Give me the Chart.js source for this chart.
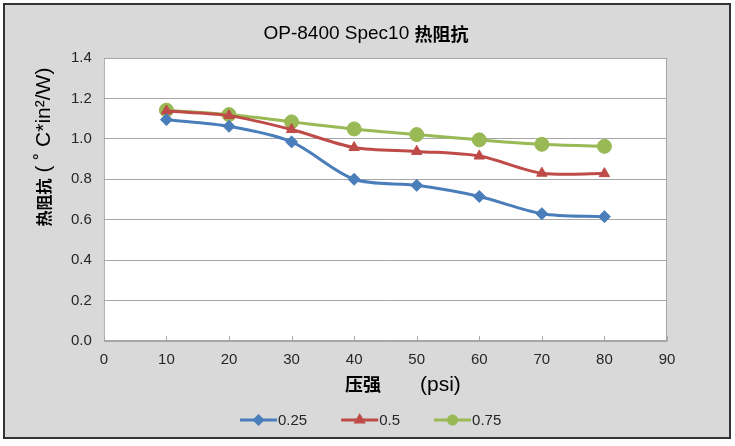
<!DOCTYPE html>
<html>
<head>
<meta charset="utf-8">
<script src="https://cdn.jsdelivr.net/npm/chart.js@4"></script>
<style>
body { margin: 0; background: #fff; }
#chart { display: block; }
</style>
</head>
<body>
<canvas id="chart" width="735" height="446"></canvas>
<script>
// pressure (psi)
let pressures = [10, 20, 30, 40, 50, 60, 70, 80]
let series025 = [1.095, 1.062, 0.985, 0.80, 0.77, 0.715, 0.63, 0.615]
let series05 = [1.138, 1.115, 1.046, 0.957, 0.938, 0.915, 0.83, 0.828]
let series075 = [1.142, 1.12, 1.084, 1.049, 1.021, 0.995, 0.973, 0.963]
let seriesNames = ["0.25", "0.5", "0.75"]
let xTicks = [0, 10, 20, 30, 40, 50, 60, 70, 80, 90]
let yTicks = [0, 0.2, 0.4, 0.6, 0.8, 1.0, 1.2, 1.4]

let colors = ["#4a7ebb", "#be4b48", "#98b954"]
let markers = ["rectRot", "triangle", "circle"]
let markerSize = [6, 6, 7]

function pts(vals) {
    return vals.map((v, i) => ({x: pressures[i], y: v}))
}

// draw a string made of parts with different fonts, centered at (cx, cy)
function mixedText(ctx, parts, cx, cy) {
    let total = 0
    for (let p of parts) {
        ctx.font = p[1]
        total += ctx.measureText(p[0]).width
    }
    let x = cx - total / 2
    ctx.textAlign = "left"
    ctx.textBaseline = "middle"
    for (let p of parts) {
        ctx.font = p[1]
        ctx.fillText(p[0], x, cy)
        x += ctx.measureText(p[0]).width
    }
}

const bgPlugin = {
    id: "bg",
    beforeDraw(chart) {
        let ctx = chart.ctx
        let a = chart.chartArea
        ctx.save()
        ctx.fillStyle = "#ffffff"
        ctx.fillRect(0, 0, chart.width, chart.height)
        ctx.fillStyle = "#d9d9d9"
        ctx.fillRect(4, 4, 726, 434)
        ctx.strokeStyle = "#333333"
        ctx.lineWidth = 2
        ctx.strokeRect(4, 4, 726, 434)
        ctx.fillStyle = "#ffffff"
        ctx.fillRect(a.left, a.top, a.right - a.left, a.bottom - a.top)
        ctx.restore()
    },
    afterDatasetsDraw(chart) {
        let ctx = chart.ctx
        let a = chart.chartArea
        ctx.save()
        ctx.strokeStyle = "#a6a6a6"
        ctx.lineWidth = 1
        ctx.strokeRect(a.left + 0.5, a.top + 0.5, a.right - a.left - 1, a.bottom - a.top - 1)
        // small inner tick marks on x axis
        let xs = chart.scales.x
        for (let t of xTicks) {
            let px = Math.round(xs.getPixelForValue(t)) + 0.5
            ctx.beginPath()
            ctx.moveTo(px, a.bottom)
            ctx.lineTo(px, a.bottom - 5)
            ctx.stroke()
        }
        ctx.restore()
    },
    afterDraw(chart) {
        let ctx = chart.ctx
        ctx.save()
        ctx.fillStyle = "#000000"
        // title
        mixedText(ctx, [
            ["OP-8400 Spec10 ", "19px 'Liberation Sans'"],
            ["热阻抗", "bold 18px 'Noto Sans CJK SC'"]
        ], 366, 34)
        // x axis title
        ctx.textAlign = "left"
        ctx.textBaseline = "middle"
        ctx.font = "bold 18px 'Noto Sans CJK SC'"
        ctx.fillText("压强", 345, 384)
        ctx.font = "21px 'Liberation Sans'"
        ctx.fillText("(psi)", 420, 385)
        // y axis title
        ctx.translate(44, 147)
        ctx.rotate(-Math.PI / 2)
        mixedText(ctx, [
            ["热阻抗", "bold 16px 'Noto Sans CJK SC'"],
            [" ( ˚ C*in²/W)", "21px 'Liberation Sans', 'Noto Sans CJK SC'"]
        ], 0, 0)
        ctx.restore()

        // legend: line + small marker + name
        ctx.save()
        let x = 240
        let y = 420
        for (let i = 0; i < seriesNames.length; i++) {
            ctx.strokeStyle = colors[i]
            ctx.fillStyle = colors[i]
            ctx.lineWidth = 3
            ctx.beginPath()
            ctx.moveTo(x, y)
            ctx.lineTo(x + 37, y)
            ctx.stroke()
            Chart.helpers.drawPoint(ctx, {pointStyle: markers[i], radius: 4, borderWidth: 1}, x + 18.5, y)
            ctx.fillStyle = "#262626"
            ctx.font = "15px 'Liberation Sans'"
            ctx.textAlign = "left"
            ctx.textBaseline = "middle"
            ctx.fillText(seriesNames[i], x + 38, y + 1)
            x += 38 + ctx.measureText(seriesNames[i]).width + 34
        }
        ctx.restore()
    }
}

new Chart(document.getElementById("chart"), {
    type: "line",
    data: {
        datasets: [series025, series05, series075].map((vals, i) => ({
            label: seriesNames[i],
            data: pts(vals),
            borderColor: colors[i],
            backgroundColor: colors[i],
            borderWidth: 3,
            pointStyle: markers[i],
            pointRadius: markerSize[i],
            pointHoverRadius: markerSize[i],
            pointBorderWidth: 1,
            tension: 0.3
        }))
    },
    options: {
        responsive: false,
        animation: false,
        devicePixelRatio: 1,
        layout: {padding: {left: 59, right: 68, top: 58, bottom: 67}},
        plugins: {
            title: {display: false},
            legend: {display: false},
            tooltip: {enabled: false}
        },
        scales: {
            x: {
                type: "linear",
                min: 0,
                max: 90,
                afterBuildTicks(s) { s.ticks = xTicks.map(v => ({value: v})) },
                grid: {display: false, drawTicks: false},
                border: {display: false},
                ticks: {
                    color: "#262626",
                    font: {family: "'Liberation Sans'", size: 15},
                    padding: 10
                }
            },
            y: {
                min: 0,
                max: 1.4,
                afterBuildTicks(s) { s.ticks = yTicks.map(v => ({value: v})) },
                grid: {color: "#a6a6a6", drawTicks: false},
                border: {display: false},
                ticks: {
                    color: "#262626",
                    font: {family: "'Liberation Sans'", size: 15},
                    padding: 12,
                    callback: v => Number(v).toFixed(1)
                }
            }
        }
    },
    plugins: [bgPlugin]
})
</script>
</body>
</html>
